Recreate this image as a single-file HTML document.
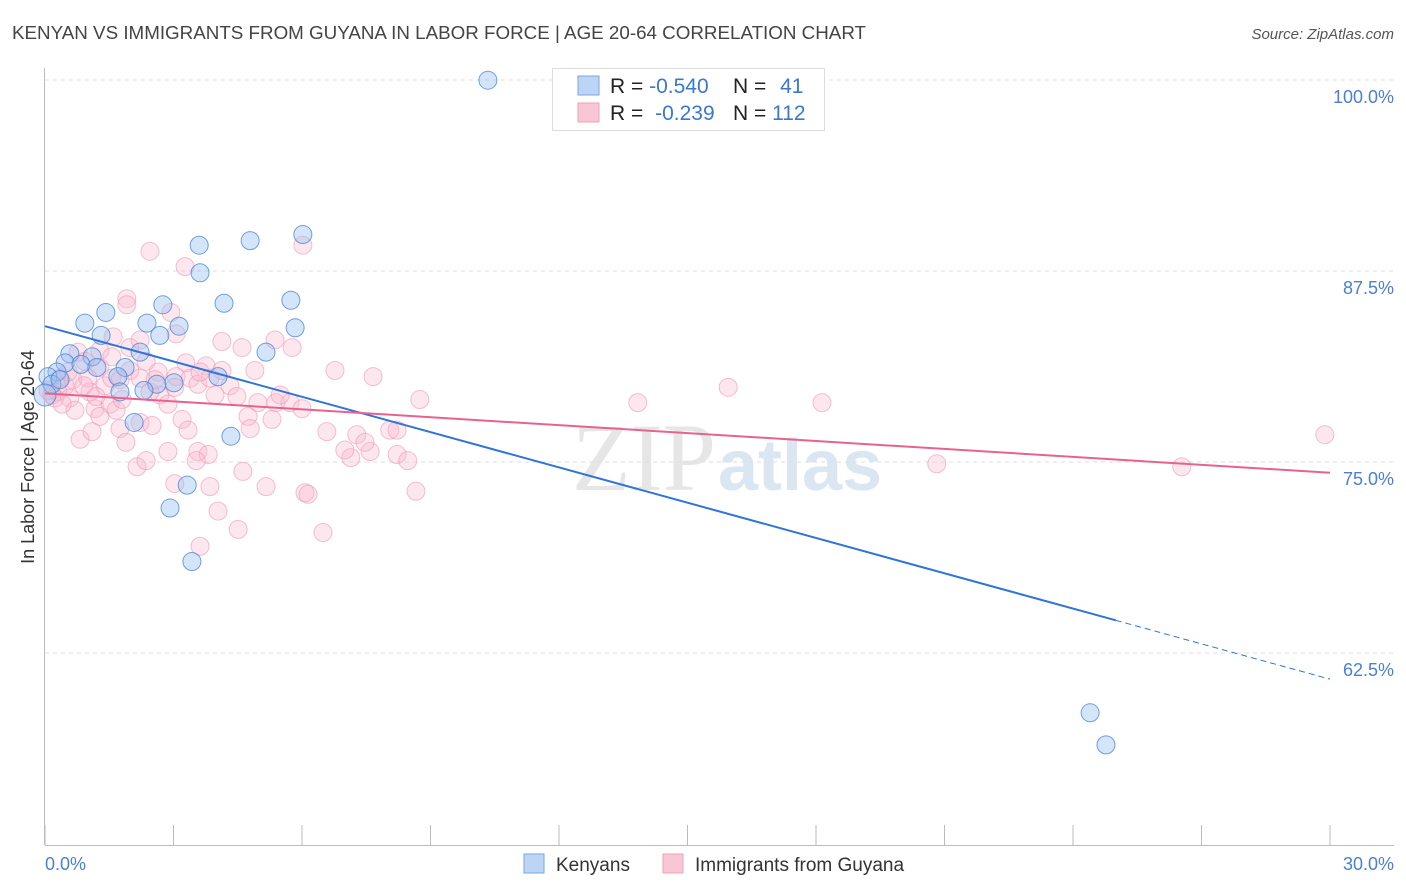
<!DOCTYPE html>
<html><head><meta charset="utf-8">
<style>
body{margin:0;background:#fff;font-family:"Liberation Sans",sans-serif;}
#wrap{position:relative;width:1406px;height:892px;overflow:hidden;}
</style></head>
<body>
<div id="wrap">
<svg id="chart" width="1406" height="892">
  <text x="12" y="39" font-size="18.8" fill="#444">KENYAN VS IMMIGRANTS FROM GUYANA IN LABOR FORCE | AGE 20-64 CORRELATION CHART</text>
  <text x="1394" y="39" font-size="15" fill="#555" font-style="italic" text-anchor="end">Source: ZipAtlas.com</text>
  <text x="716" y="490" font-size="96" fill="#e6e6e6" text-anchor="end" font-family="Liberation Serif,serif">ZIP</text>
  <text x="718" y="490" font-size="72" fill="#dbe6f3" font-weight="bold">atlas</text>
  <g id="grid"></g>
  <g id="axes"></g>
  <g id="pts"></g>
  <g id="trend"></g>
  <text transform="translate(34,457) rotate(-90)" font-size="18" fill="#333" text-anchor="middle">In Labor Force | Age 20-64</text>
  <text x="45" y="870" font-size="18" fill="#4a7fd4">0.0%</text>
  <text x="1394" y="870" font-size="18" fill="#4a7fd4" text-anchor="end">30.0%</text>
  <g>
    <rect x="552.5" y="68.5" width="272" height="62" fill="#fff" stroke="#ddd"/>
    <rect x="578" y="76" width="21" height="19" fill="#bcd5f5" stroke="#7aa6e0"/>
    <rect x="578" y="103" width="21" height="19" fill="#f8c6d4" stroke="#f0a2ba"/>
    <text x="610" y="93" font-size="21" fill="#222">R = <tspan fill="#3a78d0">-0.540</tspan></text>
    <text x="733" y="93" font-size="21" fill="#222">N = <tspan fill="#3a78d0" dx="8">41</tspan></text>
    <text x="610" y="120" font-size="21" fill="#222">R = <tspan fill="#3a78d0" dx="6">-0.239</tspan></text>
    <text x="733" y="120" font-size="21" fill="#222">N = <tspan fill="#3a78d0">112</tspan></text>
  </g>
  <g>
    <rect x="524" y="854" width="20" height="19" fill="#bcd5f5" stroke="#7aa6e0"/>
    <text x="556" y="871" font-size="19" fill="#333">Kenyans</text>
    <rect x="663" y="854" width="20" height="19" fill="#f8c6d4" stroke="#f0a2ba"/>
    <text x="695" y="871" font-size="19" fill="#333">Immigrants from Guyana</text>
  </g>
</svg>
</div>
<script>
const yTicks=[100,87.5,75,62.5];
const yTickLabels=["100.0%","87.5%","75.0%","62.5%"];
const xTicks=[0,3,6,9,12,15,18,21,24,27,30];
const blueX=[10.34,6.02,4.79,3.60,3.62,5.74,4.18,2.75,1.42,0.93,2.38,3.13,5.84,1.31,2.68,2.22,5.16,0.58,1.10,0.47,0.84,1.87,1.21,0.28,0.07,1.70,0.16,2.61,3.01,2.31,1.75,4.04,4.34,2.08,3.32,2.92,3.43,24.40,24.77,0,0.35];
const blueY=[101.1,91.0,90.6,90.3,88.5,86.7,86.5,86.4,85.9,85.2,85.2,85.0,84.9,84.4,84.4,83.3,83.3,83.2,83.0,82.6,82.5,82.3,82.3,82.0,81.7,81.7,81.2,81.2,81.3,80.8,80.7,81.7,77.8,78.7,74.6,73.1,69.6,59.7,57.6,80.5,81.5];
const pinkX=[2.45,3.27,6.02,1.91,1.91,2.94,3.06,1.59,4.13,4.60,5.37,5.77,1.98,2.36,3.29,3.76,4.13,4.90,6.77,7.66,15.95,13.84,18.14,29.88,20.82,26.54,0.77,1.28,1.00,0.65,0.47,0.30,0.23,0.58,1.05,1.40,1.56,1.75,1.98,2.22,2.64,3.06,3.39,3.57,3.85,4.32,4.48,3.97,3.03,2.68,0.70,1.17,1.52,1.66,1.28,2.22,1.75,2.50,3.20,4.74,5.30,4.97,5.39,6.58,7.28,8.05,8.22,0.82,1.10,1.89,2.87,3.57,3.81,4.62,2.15,2.36,3.53,5.16,6.07,6.14,7.14,7.59,8.22,8.47,8.66,3.03,3.85,4.04,4.51,3.62,6.49,0.07,0.16,0.35,0.54,0.93,1.28,1.56,2.22,0.91,1.19,0.40,2.45,1.80,2.87,3.62,4.79,5.72,5.49,7.47,6.00,7.00,8.75,3.34,2.57];
const pinkY=[89.9,88.9,90.3,86.8,86.4,85.9,84.5,84.3,84.0,83.6,84.1,83.6,83.6,82.7,82.6,82.4,82.1,82.1,82.1,81.7,81.0,80.0,80.0,77.9,76.0,75.8,83.3,82.3,81.6,81.5,81.1,80.7,80.3,80.3,80.7,81.1,81.6,81.5,82.1,81.6,82.0,81.7,81.6,81.2,81.6,81.1,80.4,80.5,81.0,80.5,79.5,79.6,79.9,79.5,79.1,78.7,78.3,78.5,78.9,79.1,78.9,80.0,80.0,78.1,77.9,78.2,78.2,77.6,78.1,77.4,76.8,76.8,76.6,75.5,75.8,76.2,76.2,74.5,74.1,74.0,76.4,76.8,76.6,76.2,74.2,74.7,74.5,72.9,71.7,70.6,71.5,80.8,80.5,81.6,82.0,82.7,83.4,83.0,84.1,81.1,80.4,79.9,80.7,80.2,79.9,82.0,78.3,80.0,80.5,77.4,79.6,76.9,80.2,78.2,81.5];
const blueTrend=[85.0,-0.77];
const pinkTrend=[80.6,-0.173];
const blueSolidEnd=25;

const NS="http://www.w3.org/2000/svg";
const xS=v=>45+v*(1285/30);
const yS=v=>97+(100-v)*(191/12.5);
function mk(tag,attrs,parent){const e=document.createElementNS(NS,tag);for(const k in attrs)e.setAttribute(k,attrs[k]);parent.appendChild(e);return e;}
const grid=document.getElementById('grid'),axes=document.getElementById('axes'),pts=document.getElementById('pts'),trend=document.getElementById('trend');
yTicks.forEach((t,i)=>{
  const gy=yS(t)-17;
  const l=mk('line',{x1:45,x2:1394,y1:gy,y2:gy,stroke:'#ddd','stroke-dasharray':'4,4'},grid);
  
  
  const tx=mk('text',{x:1394,y:yS(t)+6,'font-size':18,fill:'#4a7fd4','text-anchor':'end'},grid);
  tx.textContent=yTickLabels[i];
  
  
});
const ya=mk('line',{x1:44.5,x2:44.5,y1:68,y2:845,stroke:'#bbb'},axes);


const xa=mk('line',{x1:45,x2:1394,y1:845.5,y2:845.5,stroke:'#bbb'},axes);


xTicks.forEach(t=>{
  const l=mk('line',{x1:xS(t),x2:xS(t),y1:825,y2:845,stroke:'#bbb'},axes);
  
  
});
function dots(X,Y,fill,stroke,name){
  X.forEach((x,i)=>{
    const c=mk('circle',{cx:xS(x),cy:yS(Y[i]),r:(x===0?11:9),fill:fill,stroke:stroke,'stroke-width':1},pts);
    
    
  });
}
dots(pinkX,pinkY,'rgba(248,185,205,0.35)','rgba(236,150,180,0.6)','guyana-point');
dots(blueX,blueY,'rgba(150,190,240,0.4)','rgba(70,130,215,0.75)','kenyan-point');
const tv=(tr,x)=>tr[0]+tr[1]*x;
let l=mk('line',{x1:xS(0),y1:yS(tv(blueTrend,0)),x2:xS(blueSolidEnd),y2:yS(tv(blueTrend,blueSolidEnd)),stroke:'#2f74d8','stroke-width':2},trend);


l=mk('line',{x1:xS(blueSolidEnd),y1:yS(tv(blueTrend,blueSolidEnd)),x2:xS(30),y2:yS(tv(blueTrend,30)),stroke:'#2f74d8','stroke-width':1,'stroke-dasharray':'6,4'},trend);


l=mk('line',{x1:xS(0),y1:yS(tv(pinkTrend,0)),x2:xS(30),y2:yS(tv(pinkTrend,30)),stroke:'#e8628f','stroke-width':2},trend);


</script>
</body></html>
